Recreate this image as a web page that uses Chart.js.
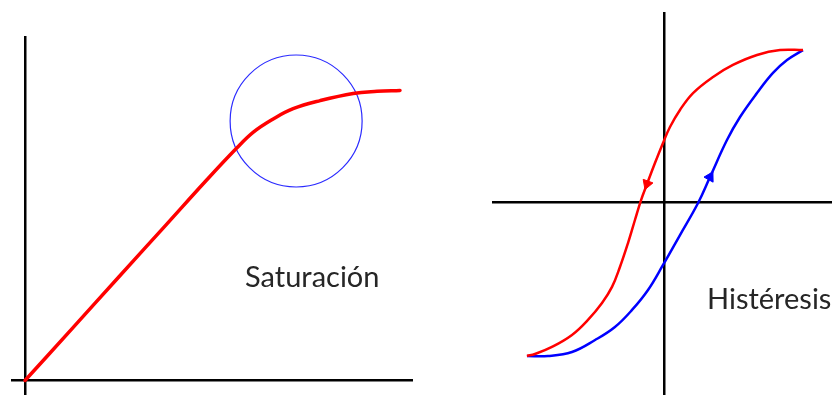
<!DOCTYPE html>
<html>
<head>
<meta charset="utf-8">
<script src="https://cdn.jsdelivr.net/npm/chart.js@4/dist/chart.umd.min.js"></script>
<style>
  html, body { margin: 0; padding: 0; background: #ffffff; }
  #stage { position: relative; width: 832px; height: 395px; overflow: hidden; background: #fff; }
  .panel { position: absolute; }
  .lbl { position: absolute; font-family: Lato, "Open Sans", sans-serif; font-size: 29px; line-height: 1; color: #262626; white-space: nowrap; }
</style>
</head>
<body>
<div id="stage">
  <div class="panel" style="left:11px; top:36px; width:402px; height:359px;"><canvas id="sat" width="402" height="359"></canvas></div>
  <div class="panel" style="left:492px; top:12px; width:340px; height:383px;"><canvas id="hys" width="340" height="383"></canvas></div>
  <div class="lbl" id="lblSat" style="left:245px; top:261px;"></div>
  <div class="lbl" id="lblHys" style="left:707px; top:283px;"></div>
</div>
<script>
// ---- Data ----
const labels = ["Saturación", "Histéresis"];

// Saturation curve (H, B)
const satH = [0, 1.25, 2.5, 3.75, 4.85, 5.64, 6.09, 6.62, 7.15, 7.87, 8.75, 9.39, 10];
const satB = [0, 1.72, 3.45, 5.17, 6.69, 7.74, 8.28, 8.72, 9.06, 9.33, 9.57, 9.64, 9.67];

// Highlight circle centre on the saturation knee
const circleH = [7.23];
const circleB = [8.65];

// Hysteresis: descending branch (red), listed by increasing H
const descH = [-0.986, -0.928, -0.806, -0.662, -0.547, -0.446, -0.374, -0.317, -0.259, -0.209, -0.165, -0.122, -0.065, -0.007, 0.043, 0.115, 0.209, 0.353, 0.496, 0.669, 0.835, 1.0];
const descB = [-1.0, -0.987, -0.941, -0.863, -0.765, -0.655, -0.55, -0.42, -0.264, -0.114, 0.016, 0.121, 0.257, 0.388, 0.492, 0.603, 0.713, 0.818, 0.896, 0.961, 0.993, 0.993];

// Hysteresis: ascending branch (blue)
const ascH = [-0.986, -0.835, -0.662, -0.496, -0.353, -0.23, -0.115, -0.007, 0.115, 0.245, 0.331, 0.453, 0.547, 0.669, 0.784, 0.885, 1.0];
const ascB = [-1.0, -1.0, -0.974, -0.896, -0.811, -0.7, -0.57, -0.407, -0.212, -0.003, 0.166, 0.407, 0.557, 0.713, 0.844, 0.928, 0.993];

// Direction arrows on each branch
const arrowDescH = [-0.122], arrowDescB = [0.121];
const arrowAscH = [0.331],  arrowAscB = [0.166];

// ---- helpers ----
const pts = (xs, ys) => xs.map((x, i) => ({ x: x, y: ys[i] }));

function axisScale(min, max) {
  return {
    type: 'linear',
    min: min,
    max: max,
    afterBuildTicks: (s) => { s.ticks = [{ value: 0 }]; },
    ticks: { display: false },
    grid: { color: '#000000', lineWidth: 2.5, drawTicks: false },
    border: { display: false }
  };
}

const common = {
  responsive: false,
  animation: false,
  events: [],
  layout: { padding: 0, autoPadding: false },
  plugins: { legend: { display: false }, tooltip: { enabled: false } }
};

document.getElementById('lblSat').textContent = labels[0];
document.getElementById('lblHys').textContent = labels[1];

// ---- Saturation chart ----
new Chart(document.getElementById('sat'), {
  type: 'scatter',
  data: {
    datasets: [
      {
        data: pts(satH, satB), showLine: true, borderColor: '#ff0000', borderWidth: 3.5,
        pointRadius: 0, tension: 0.4, fill: false, borderCapStyle: 'round'
      },
      {
        data: pts(circleH, circleB), showLine: false, pointRadius: 66, pointStyle: 'circle',
        pointBorderColor: '#2b2bff', pointBackgroundColor: 'rgba(0,0,0,0)', pointBorderWidth: 1.2
      }
    ]
  },
  options: Object.assign({}, common, {
    scales: {
      x: axisScale(-14 / 37.5, 388 / 37.5),
      y: axisScale(-14.5 / 30, 344.5 / 30)
    }
  })
});

// ---- Hysteresis chart ----
new Chart(document.getElementById('hys'), {
  type: 'scatter',
  data: {
    datasets: [
      {
        data: pts(descH, descB), showLine: true, borderColor: '#ff0000', borderWidth: 2.5,
        pointRadius: 0, tension: 0.4, fill: false
      },
      {
        data: pts(ascH, ascB), showLine: true, borderColor: '#0000ff', borderWidth: 2.5,
        pointRadius: 0, tension: 0.4, fill: false
      },
      {
        data: pts(arrowDescH, arrowDescB), showLine: false, pointStyle: 'triangle', pointRadius: 6,
        rotation: 200, pointBackgroundColor: '#ff0000', pointBorderColor: '#ff0000', pointBorderWidth: 1
      },
      {
        data: pts(arrowAscH, arrowAscB), showLine: false, pointStyle: 'triangle', pointRadius: 6,
        rotation: 29, pointBackgroundColor: '#0000ff', pointBorderColor: '#0000ff', pointBorderWidth: 1
      }
    ]
  },
  options: Object.assign({}, common, {
    scales: {
      x: axisScale(-172 / 139, 168 / 139),
      y: axisScale(-192.5 / 153.5, 190.5 / 153.5)
    }
  })
});
</script>
</body>
</html>
